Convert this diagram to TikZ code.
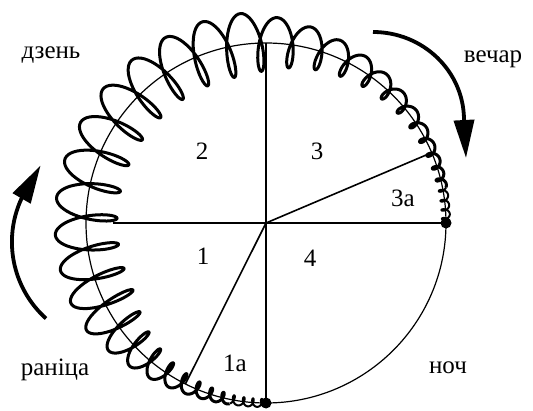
\documentclass[tikz,border=0pt]{standalone}
\usepackage{fontspec}
\setmainfont{Liberation Serif}
\usetikzlibrary{arrows.meta}
\begin{document}
\begin{tikzpicture}[x=1pt,y=1pt,
  rim/.style={line width=1.2pt},
  spoke/.style={line width=1.6pt},
  coil/.style={line width=3pt,line join=round},
  thincoil/.style={line width=2pt,line join=round},
  turn/.style={line width=3.8pt,-{Triangle[length=38pt,width=20pt]}},
  lbl/.style={anchor=base,inner sep=0pt,font=\fontsize{25}{30}\selectfont},
  declare function={
    cth(\t)=270*(\t-0.0955*sin(360*\t));
    camp(\t)=min(4+26*(cth(\t)/95)*(cth(\t)/95),31,4+26*((270-cth(\t))/60)*((270-cth(\t))/60));
    cpb(\t)=6.23*(1-0.6*cos(360*\t));
    cx(\t)=266+(180+camp(\t)*cos(14040*\t))*cos(cth(\t))-cpb(\t)*sin(14040*\t)*sin(cth(\t));
    cy(\t)=187+(180+camp(\t)*cos(14040*\t))*sin(cth(\t))+cpb(\t)*sin(14040*\t)*cos(cth(\t));
  }]
\useasboundingbox (0,0) rectangle (533,410);
\coordinate (O) at (266,187);
\path (O) ++(0:180) coordinate (rimE);
\path (O) ++(90:180) coordinate (rimN);
\path (O) ++(270:180) coordinate (rimS);
\path (O) ++(180:153) coordinate (westEnd);
\path (O) ++(23:180) coordinate (rim3a);
\path (O) ++(243.4:180) coordinate (rim1a);
\draw[rim] (O) circle[radius=180];
\draw[spoke] (westEnd) -- (rimE);
\draw[spoke] (rimN) -- (rimS);
\draw[spoke] (O) -- (rim3a);
\draw[spoke] (O) -- (rim1a);
\draw[thincoil] plot[domain=0:0.1,samples=181,variable=\s] ({cx(\s)},{cy(\s)});
\draw[coil] plot[domain=0.1:0.9,samples=1361,variable=\s] ({cx(\s)},{cy(\s)});
\draw[thincoil] plot[domain=0.9:1,samples=181,variable=\s] ({cx(\s)},{cy(\s)});
\fill (rimE) circle[radius=5.5];
\fill (rimS) circle[radius=5.5];
\coordinate (mornTail) at (46,91.5);
\draw[turn] (mornTail) arc[start angle=228,end angle=155,radius=103] -- ++(60:38);
\coordinate (eveTail) at (373,378);
\draw[turn] (eveTail) arc[start angle=90,end angle=0,x radius=91,y radius=88] -- ++(2,-38);
\node[lbl] (day) at (51,351) {дзень};
\node[lbl] (evening) at (493,347) {вечар};
\node[lbl] (morning) at (55,35) {раніца};
\node[lbl] (night) at (448,37) {ноч};
\node[lbl] (sec2) at (202,250) {2};
\node[lbl] (sec3) at (317,250) {3};
\node[lbl] (sec3a) at (403,203) {3а};
\node[lbl] (sec1) at (203,145) {1};
\node[lbl] (sec4) at (310,143) {4};
\node[lbl] (sec1a) at (235,38) {1а};
\end{tikzpicture}
\end{document}
